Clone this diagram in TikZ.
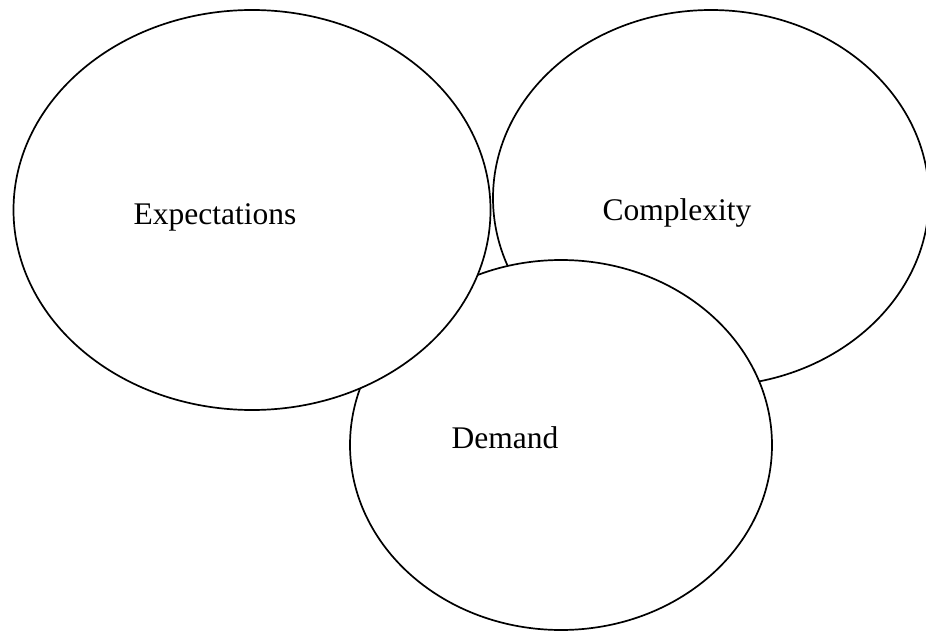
\documentclass[tikz,border=0pt]{standalone}
\usepackage{fontspec}
\setmainfont{Liberation Serif}
\usepackage{tikz}
\usetikzlibrary{shapes.geometric}
\tikzset{
	bubble/.style = {shape=ellipse, draw, fill=white, line width=1.7pt,
		inner sep=0pt},
	term/.style   = {font=\fontsize{31.5}{38}\selectfont, inner sep=0pt}
}

\begin{document}
\begin{tikzpicture}
	[
	x = 1pt,
	y = -1pt
	]
	\useasboundingbox (0,0) rectangle (926,631);
	\node [bubble, minimum width=436pt, minimum height=376pt] (complexity) at (711,198) {};
	\node [bubble, minimum width=422pt, minimum height=370pt] (demand) at (561,445) {};
	\node [bubble, minimum width=477pt, minimum height=400pt] (expect) at (252,210) {};
	\node [term] (expectLbl) at (215,217) {Expectations};
	\node [term] (complexityLbl) at (677,213) {Complexity};
	\node [term] (demandLbl) at (505,438) {Demand};
\end{tikzpicture}
\end{document}
